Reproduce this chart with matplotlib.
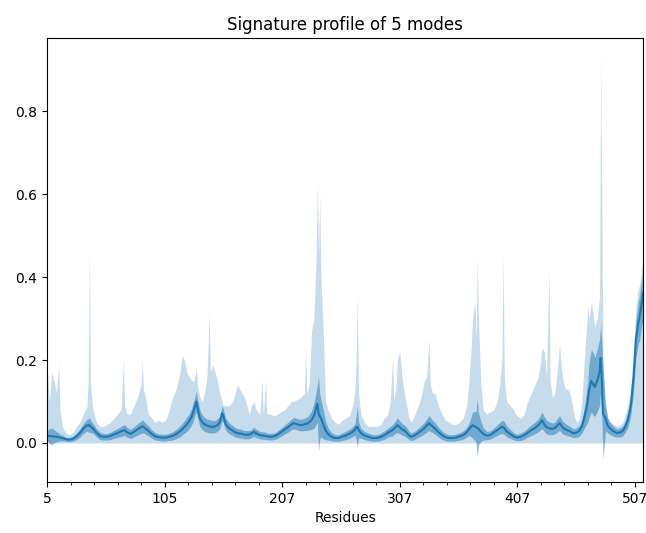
"""Signature profile: mean fluctuation per residue over 5 modes, with the
standard deviation band and the min-max envelope across the ensemble."""

import numpy as np
from matplotlib import pyplot as plt

# residue index (0-based position along the chain)
idx = [0, 2, 4, 6, 8, 10, 11, 13, 16, 19, 22, 25, 28, 31, 34, 35, 36, 37, 39, 42,
       45, 48, 51, 54, 57, 60, 63, 65, 66, 68, 71, 74, 77, 80, 81, 82, 84, 86,
       89, 92, 95, 98, 101, 104, 107, 110, 113, 115, 117, 119, 121, 123, 125, 127, 128, 130,
       132, 134, 136, 138, 139, 141, 143, 145, 147, 149, 150, 152, 155, 158, 160, 162, 164,
       166, 168, 170, 172,
       174, 176, 178, 181, 183, 184, 186, 187, 190, 193, 196, 199, 202, 205, 208, 210, 213,
       216, 219, 220, 221, 223, 225, 227, 229, 230, 231, 232, 233, 235, 237, 239,
       242, 245, 248, 251, 254, 257, 260, 262, 263, 264, 265, 267, 270, 273, 277, 281, 284,
       287, 290, 292, 294, 295, 297, 298, 300, 302, 304, 306, 308, 310,
       313, 316, 319, 321, 323, 325, 326, 328, 330, 333, 336, 339, 342, 345, 348, 351, 354,
       357, 359, 361, 362, 364, 365, 366, 367, 369, 371, 374, 377,
       380, 383, 385, 387, 388, 389, 391, 394, 397, 400, 403, 406, 409, 412, 415, 418, 420,
       421, 423, 425, 427, 428, 430, 432, 434, 436, 437, 439, 441, 443, 445, 447, 449,
       451, 453, 455, 457, 459, 460, 461, 463, 465, 466, 468, 470, 471, 472, 473, 475, 477,
       479, 482, 485, 488, 490, 492, 494, 496, 497, 499, 501, 503, 504, 506, 507]

mean = [.018, .017, .016, .016, .015, .014, .013, .012, .009, .008, .010, .016, .024, .035, .043, .042, .044, .040, .035, .025,
        .017, .015, .015, .017, .021, .024, .028, .030, .031, .026, .022, .027, .033, .038, .040, .039, .034, .030,
        .022, .016, .014, .013, .013, .015, .017, .022, .028, .033, .039, .045, .053, .063, .080, .100, .085, .060,
        .050, .045, .042, .040, .040, .039, .040, .043, .050, .072, .065, .045, .035, .030, .026, .024, .023,
        .022, .020, .020, .020,
        .023, .027, .023, .019, .018, .018, .017, .016, .015, .016, .020, .026, .032, .038, .045, .048, .045,
        .043, .045, .046, .046, .050, .055, .065, .085, .095, .070, .065, .060, .045, .030, .022,
        .015, .012, .012, .015, .018, .022, .027, .033, .038, .039, .032, .024, .018, .015, .012, .012, .015,
        .019, .025, .028, .031, .034, .040, .043, .038, .033, .030, .025, .018, .015,
        .019, .025, .031, .036, .042, .048, .045, .040, .035, .026, .019, .014, .012, .012, .013, .016, .019,
        .026, .033, .040, .043, .040, .038, .036, .034, .028, .022, .018, .019,
        .025, .031, .035, .039, .038, .036, .028, .022, .016, .013, .015, .019, .025, .031, .036, .043, .050,
        .055, .045, .038, .036, .035, .034, .036, .042, .048, .044, .036, .033, .030, .028, .024, .024,
        .026, .030, .040, .060, .085, .100, .125, .150, .140, .135, .150, .170, .205, .150, .070, .060, .042,
        .035, .028, .024, .026, .030, .040, .055, .080, .100, .160, .250, .290, .300, .340, .360]

std = [.010, .018, .020, .016, .012, .010, .008, .007, .005, .005, .006, .008, .010, .012, .014, .016, .018, .015, .012, .010,
       .009, .008, .008, .009, .010, .011, .012, .013, .013, .012, .011, .012, .014, .015, .016, .015, .013, .012,
       .010, .009, .008, .008, .008, .009, .010, .011, .013, .014, .015, .017, .018, .020, .022, .025, .022, .020,
       .018, .017, .016, .016, .016, .015, .015, .015, .016, .018, .017, .015, .013, .012, .011, .011, .011,
       .010, .010, .010, .010,
       .010, .011, .010, .009, .009, .009, .009, .008, .008, .008, .009, .010, .011, .012, .013, .014, .014,
       .014, .015, .016, .016, .018, .022, .030, .040, .045, .090, .055, .045, .035, .022, .015,
       .010, .008, .008, .009, .010, .011, .012, .014, .030, .050, .020, .012, .010, .009, .008, .008, .009,
       .010, .011, .012, .014, .014, .016, .018, .016, .014, .013, .012, .010, .009,
       .010, .011, .013, .014, .016, .018, .017, .015, .014, .012, .010, .009, .008, .008, .008, .009, .010,
       .012, .015, .025, .032, .035, .038, .070, .040, .025, .015, .010, .010,
       .011, .013, .014, .016, .016, .016, .013, .011, .009, .008, .009, .010, .011, .013, .014, .016, .018,
       .020, .018, .016, .016, .015, .014, .014, .016, .018, .017, .015, .014, .013, .012, .011, .011,
       .012, .013, .016, .025, .040, .050, .065, .075, .075, .070, .075, .080, .080, .090, .110, .030, .018,
       .015, .012, .010, .011, .012, .014, .018, .022, .025, .035, .045, .050, .055, .055, .060]

vmax = [.19, .10, .17, .15, .12, .19, .08, .04, .025, .02, .025, .04, .05, .07, .09, .15, .46, .14, .08, .05,
        .04, .04, .045, .05, .06, .07, .08, .20, .09, .07, .07, .09, .11, .14, .20, .13, .11, .07,
        .06, .05, .055, .05, .055, .08, .11, .13, .17, .21, .20, .17, .16, .15, .15, .18, .14, .11,
        .10, .12, .16, .31, .17, .19, .17, .15, .12, .10, .09, .09, .09, .10, .12, .14, .13,
        .12, .11, .09, .07,
        .09, .10, .08, .07, .15, .07, .15, .07, .07, .065, .07, .075, .08, .09, .10, .10, .105,
        .11, .12, .23, .12, .14, .27, .30, .45, .63, .45, .60, .40, .27, .10, .08,
        .06, .05, .045, .055, .06, .065, .09, .13, .20, .36, .12, .07, .05, .04, .04, .04, .045,
        .06, .07, .10, .21, .10, .14, .20, .22, .16, .12, .09, .06, .05,
        .07, .09, .12, .15, .16, .25, .14, .12, .12, .09, .07, .055, .05, .045, .045, .05, .06,
        .09, .15, .24, .30, .34, .25, .45, .30, .15, .08, .07, .075,
        .08, .10, .14, .20, .46, .16, .10, .09, .08, .065, .06, .07, .10, .12, .14, .16, .20,
        .23, .22, .16, .42, .15, .11, .12, .17, .24, .20, .15, .13, .13, .12, .09, .06,
        .05, .06, .10, .20, .28, .33, .30, .34, .30, .28, .30, .35, .93, .55, .20, .10, .06,
        .05, .045, .04, .045, .05, .07, .09, .12, .15, .23, .33, .37, .38, .42, .44]

# lowest value across the modes stays on the baseline
vmin_level = 0.0

tick_pos = [0, 100, 200, 300, 400, 500]
tick_labels = ['5', '105', '207', '307', '407', '507']


def plot_signature(ax):
    x = np.array(idx)
    m = np.array(mean)
    s = np.array(std)
    ax.fill_between(x, vmin_level, vmax, color='C0', alpha=0.25, linewidth=0)
    ax.fill_between(x, m - s, m + s, color='C0', alpha=0.5, linewidth=0)
    ax.plot(x, m, color='C0', lw=1.5)


def main():
    fig = plt.figure(figsize=(6.46, 5.33), dpi=100)
    ax = fig.add_axes([47 / 646, 51 / 533, 596 / 646, 444 / 533])
    plot_signature(ax)
    ax.set_xlim(0, 507)
    ax.set_ylim(-0.094, 0.976)
    ax.set_xticks(tick_pos)
    ax.set_xticklabels(tick_labels)
    ax.set_xticks(np.arange(0, 508, 20), minor=True)
    ax.set_yticks([0.0, 0.2, 0.4, 0.6, 0.8])
    ax.set_xlabel('Residues')
    ax.set_title('Signature profile of 5 modes')
    fig.savefig('out.png', dpi=100)


main()
